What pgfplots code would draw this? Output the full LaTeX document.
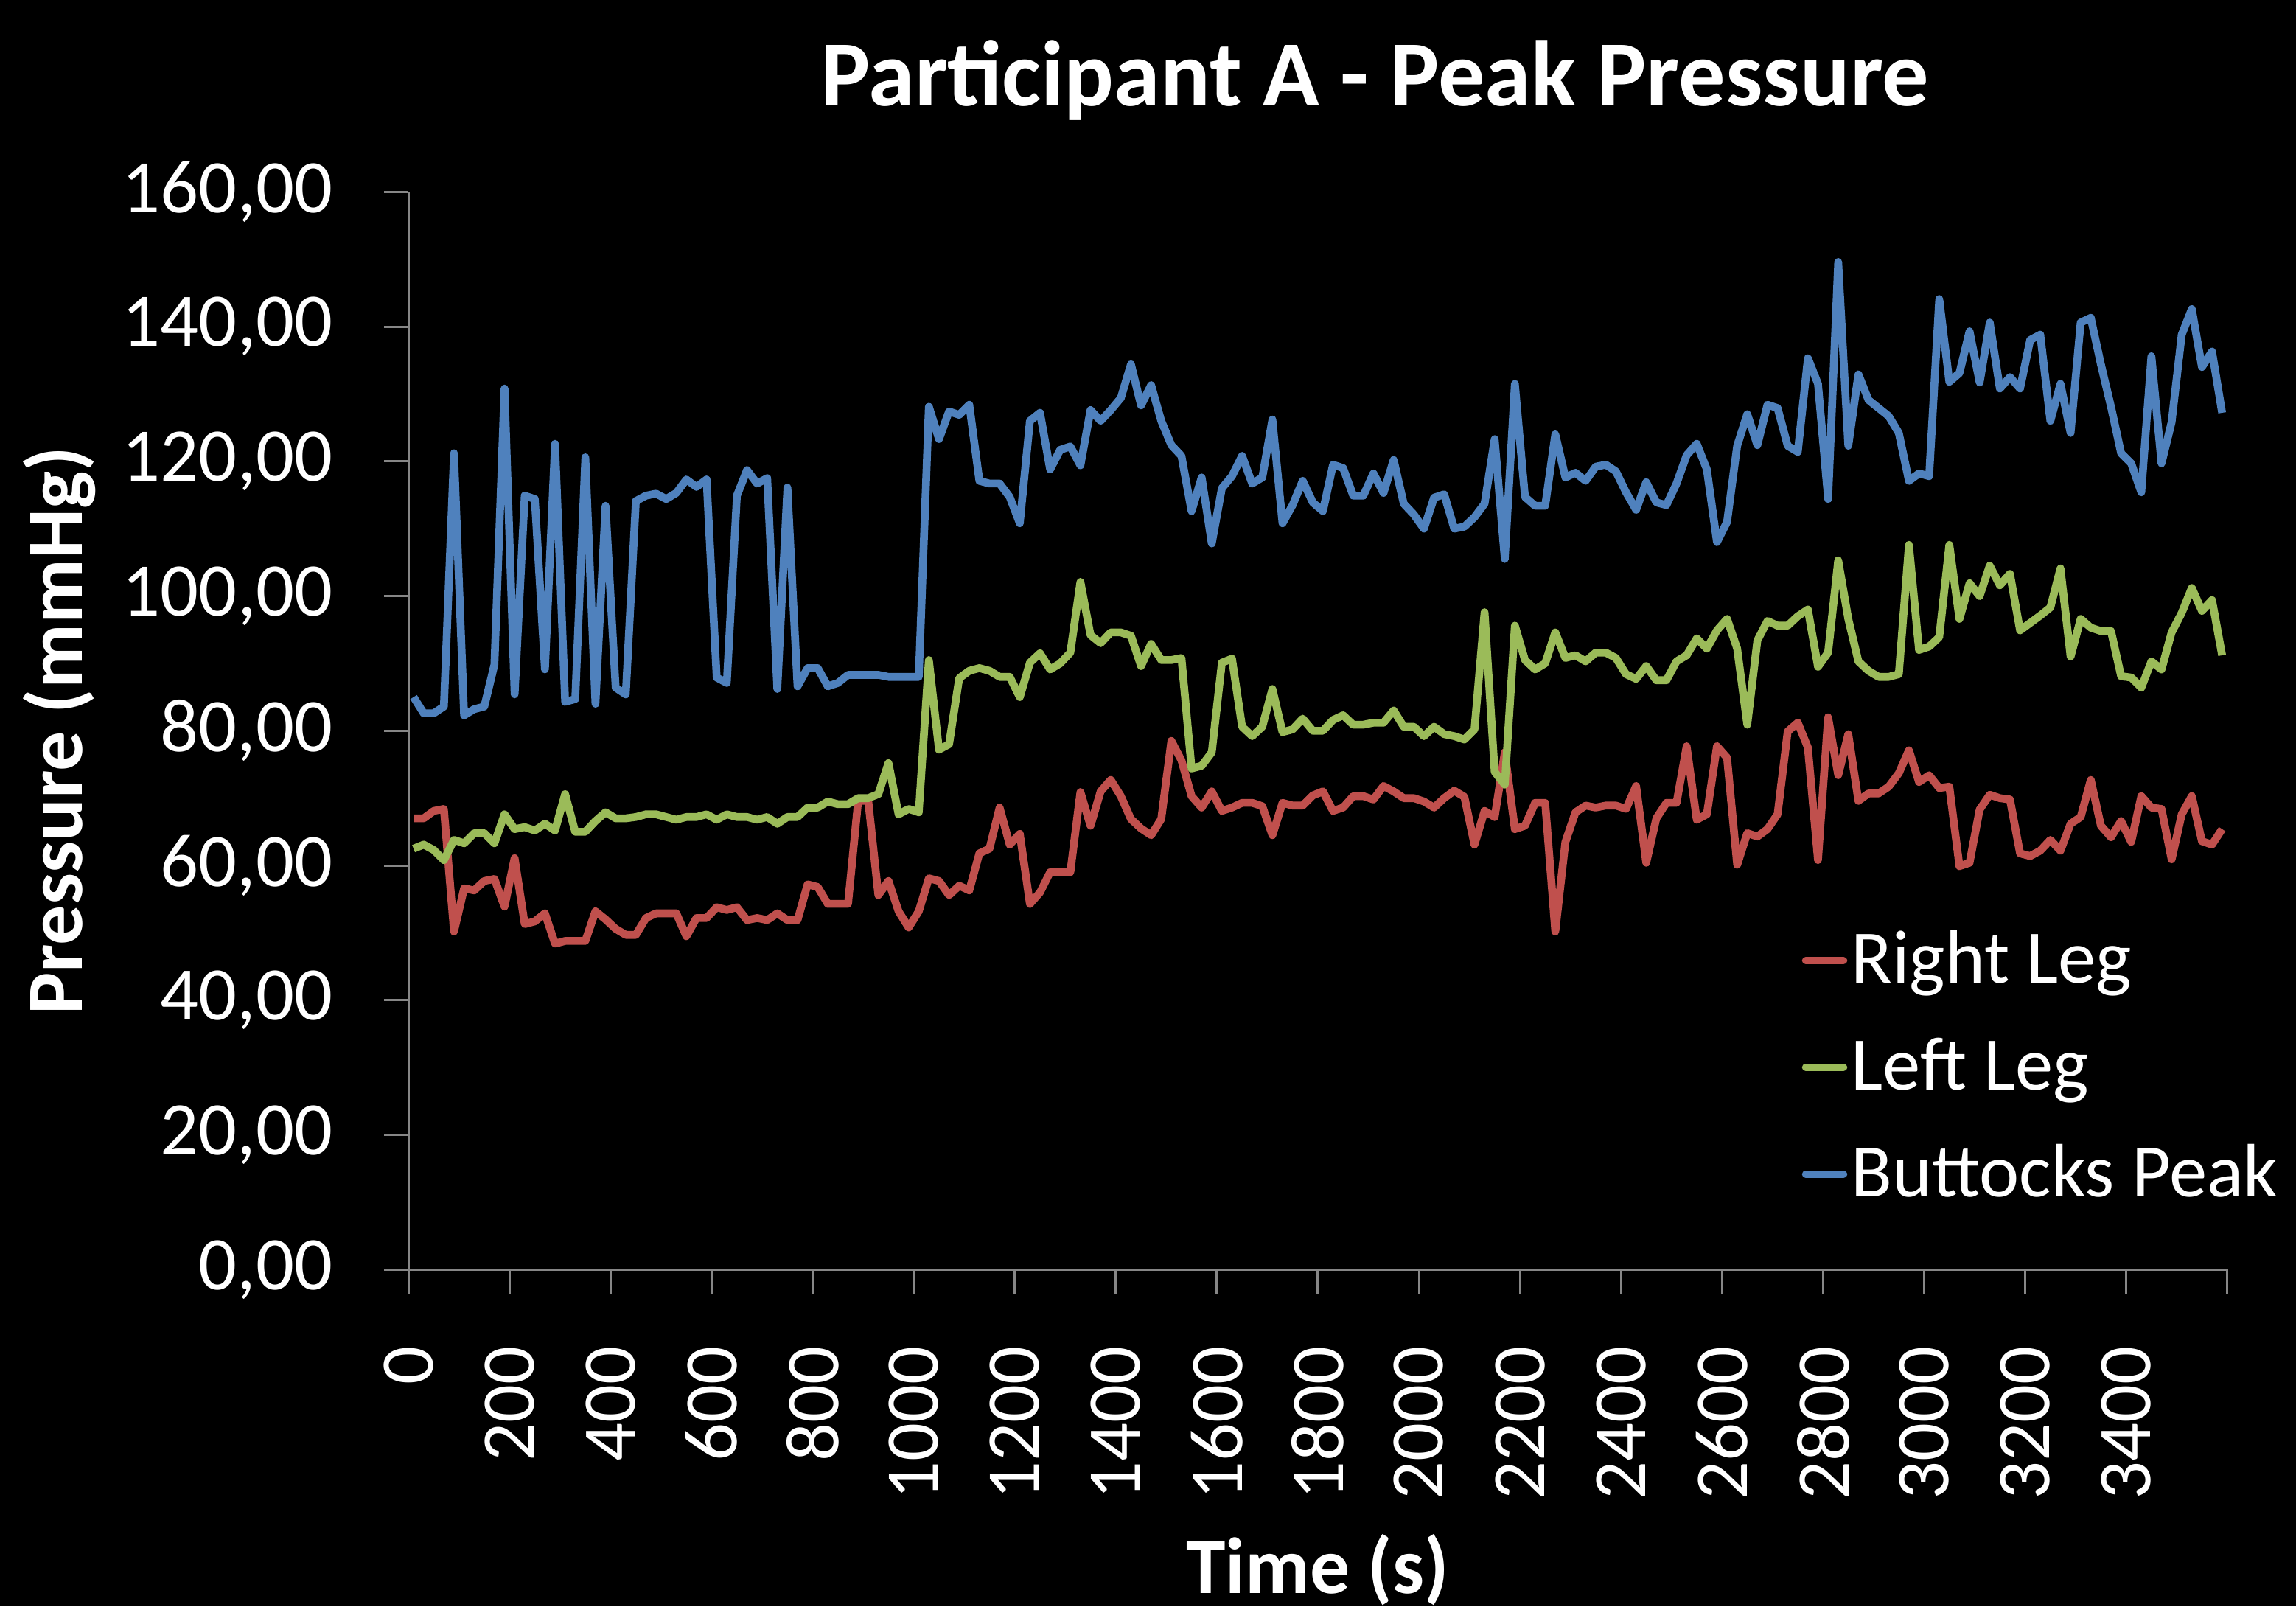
\documentclass[border=0pt]{standalone}
\usepackage{pgfplots}
\pgfplotsset{compat=1.18}
\usepackage{pgfplotstable}
\usepackage{fontspec}
\setmainfont{Carlito}
\definecolor{rl}{HTML}{C0504D}
\definecolor{ll}{HTML}{9BBB59}
\definecolor{bp}{HTML}{4F81BD}
\definecolor{axgray}{HTML}{868686}

\pgfplotstableread{
t R L B
0 67.0 62.5 85.0
20 67.0 63.1 82.6
40 68.1 62.3 82.6
60 68.4 60.8 83.6
80 50.2 63.8 121.2
100 56.6 63.3 82.3
120 56.3 64.8 83.2
140 57.7 64.8 83.6
160 58.0 63.3 89.8
180 53.9 67.6 130.8
200 61.1 65.4 85.4
220 51.3 65.7 114.9
240 51.7 65.2 114.4
260 52.9 66.2 89.1
280 48.4 65.2 122.6
300 48.8 70.6 84.3
320 48.8 65.0 84.7
340 48.8 65.0 120.6
360 53.2 66.6 84.0
380 52.0 67.9 113.4
400 50.6 67.0 86.4
420 49.7 67.0 85.4
440 49.7 67.2 114.1
460 52.2 67.6 114.9
480 52.9 67.6 115.2
500 52.9 67.2 114.4
520 52.9 66.8 115.3
540 49.5 67.2 117.3
560 52.2 67.2 116.2
580 52.2 67.6 117.3
600 53.8 66.8 87.9
620 53.4 67.6 87.1
640 53.8 67.2 114.9
660 51.9 67.2 118.7
680 52.2 66.8 116.7
700 51.9 67.2 117.5
720 52.9 66.2 86.2
740 51.9 67.2 116.1
760 51.9 67.2 86.6
780 57.2 68.6 89.3
800 56.8 68.6 89.3
820 54.3 69.5 86.6
840 54.3 69.1 87.1
860 54.3 69.1 88.3
880 69.6 70.0 88.3
900 69.6 70.0 88.3
920 55.6 70.6 88.3
940 57.7 75.2 88.0
960 53.2 67.6 88.0
980 50.8 68.4 88.0
1000 53.2 67.9 88.0
1020 58.1 90.5 128.1
1040 57.7 77.2 123.3
1060 55.6 78.0 127.4
1080 57.0 87.8 126.9
1100 56.3 88.9 128.4
1120 61.8 89.3 117.1
1140 62.5 88.9 116.7
1160 68.6 88.0 116.7
1180 63.1 88.0 114.7
1200 64.7 85.0 110.8
1220 54.3 90.1 126.0
1240 56.0 91.5 127.2
1260 59.0 89.1 118.8
1280 59.0 90.0 121.7
1300 59.0 91.6 122.2
1320 70.9 102.1 119.4
1340 65.9 94.2 127.6
1360 71.0 93.0 126.0
1380 72.7 94.6 127.6
1400 70.3 94.6 129.4
1420 66.9 94.1 134.4
1440 65.5 89.6 128.3
1460 64.5 92.9 131.3
1480 66.9 90.5 126.0
1500 78.5 90.5 122.4
1520 75.6 90.8 120.8
1540 70.3 74.4 112.6
1560 68.6 74.8 117.6
1580 71.0 76.8 107.8
1600 68.1 90.1 116.0
1620 68.6 90.7 117.8
1640 69.3 80.6 120.8
1660 69.3 79.2 116.7
1680 68.8 80.6 117.6
1700 64.5 86.2 126.2
1720 69.3 79.8 110.8
1740 68.9 80.2 113.5
1760 68.9 81.8 117.1
1780 70.4 80.0 113.9
1800 71.0 80.0 112.6
1820 68.1 81.6 119.5
1840 68.6 82.3 119.0
1860 70.3 80.9 114.9
1880 70.3 80.9 114.9
1900 69.8 81.2 118.2
1920 71.8 81.2 115.3
1940 71.0 83.0 120.2
1960 70.0 80.6 113.7
1980 70.0 80.6 112.1
2000 69.5 79.2 110.0
2020 68.6 80.6 114.6
2040 70.0 79.5 115.1
2060 71.1 79.2 110.0
2080 70.2 78.7 110.3
2100 63.1 80.2 111.7
2120 68.1 97.6 113.7
2140 67.2 73.9 123.3
2160 76.8 72.0 105.5
2180 65.4 95.6 131.5
2200 65.9 90.5 114.7
2220 69.3 89.1 113.4
2240 69.3 90.0 113.4
2260 50.2 94.6 124.0
2280 63.5 90.8 117.6
2300 67.9 91.2 118.3
2320 68.9 90.3 117.1
2340 68.6 91.6 119.2
2360 68.9 91.6 119.5
2380 68.9 90.8 118.5
2400 68.4 88.4 115.4
2420 71.8 87.7 112.8
2440 60.4 89.6 116.9
2460 67.0 87.5 113.9
2480 69.3 87.5 113.5
2500 69.3 90.3 116.7
2520 77.7 91.2 120.9
2540 66.8 93.7 122.6
2560 67.6 92.2 118.8
2580 77.7 94.9 108.0
2600 76.0 96.6 111.0
2620 60.1 92.2 122.3
2640 64.8 80.9 127.0
2660 64.3 93.4 122.4
2680 65.4 96.3 128.4
2700 67.6 95.6 127.9
2720 79.9 95.6 122.3
2740 81.2 97.0 121.4
2760 77.5 98.0 135.3
2780 60.8 89.5 131.5
2800 82.0 91.6 114.4
2820 73.4 105.3 149.6
2840 79.5 96.6 122.3
2860 69.6 90.3 132.9
2880 70.7 88.9 129.1
2900 70.7 88.0 127.9
2920 71.7 88.0 126.7
2940 73.7 88.4 124.2
2960 77.1 107.6 117.1
2980 72.4 92.0 118.2
3000 73.4 92.5 117.8
3020 71.5 93.9 144.1
3040 71.7 107.6 131.8
3060 59.9 96.6 133.1
3080 60.4 101.9 139.3
3100 68.3 100.0 131.7
3120 70.5 104.5 140.6
3140 70.0 101.6 130.8
3160 69.8 103.3 132.5
3180 61.8 94.9 130.8
3200 61.4 96.0 138.0
3220 62.2 97.1 138.8
3240 63.8 98.3 126.0
3260 62.2 104.1 131.5
3280 66.2 91.0 124.2
3300 67.2 96.6 140.6
3320 72.7 95.3 141.3
3340 65.9 94.8 134.4
3360 64.2 94.8 128.1
3380 66.6 88.1 121.2
3400 63.5 87.9 119.7
3420 70.3 86.4 115.4
3440 68.6 90.3 135.6
3460 68.4 89.1 119.7
3480 60.9 94.6 125.8
3500 67.6 97.5 138.8
3520 70.3 101.2 142.6
3540 63.6 97.8 134.0
3560 63.1 99.4 136.3
3580 65.4 91.2 127.2
}\datatable

\begin{document}
\begin{tikzpicture}
\fill[black, use as bounding box] (-83.7pt,-69pt) rectangle (386.7pt,260.1pt);
\begin{axis}[
  at={(0pt,0pt)}, anchor=south west,
  scale only axis, width=372.6pt, height=220.8pt,
  xmin=-10, xmax=3590, ymin=0, ymax=160,
  xtick={-10,190,...,3590},
  xticklabels={0,200,400,600,800,1000,1200,1400,1600,1800,2000,2200,2400,2600,2800,3000,3200,3400,{}},
  ytick={0,20,...,160},
  axis x line=bottom, axis y line=left,
  axis line style={-, draw=axgray, line width=0.45pt},
  tick style={draw=axgray, line width=0.45pt},
  tick align=outside, major tick length=5pt,
  tick label style={text=white, font=\fontsize{15.5}{18}\selectfont, inner sep=0pt},
  xticklabel style={rotate=90, anchor=east},
  yticklabel style={anchor=east},
  xticklabel shift=10.5pt, yticklabel shift=10.3pt,
  /pgf/number format/fixed, /pgf/number format/fixed zerofill,
  /pgf/number format/precision=2, /pgf/number format/use comma,
  /pgf/number format/assume math mode=true,
  title={Participant A - Peak Pressure},
  title style={font=\bfseries\fontsize{19.1}{23}\selectfont, text=white, at={(axis description cs:0.5314,1.053)}, anchor=base},
  xlabel={Time (s)},
  xlabel style={font=\bfseries\fontsize{16.3}{19}\selectfont, text=white, at={(axis description cs:0.5,-0.300)}, anchor=base},
  ylabel={Pressure (mmHg)},
  ylabel style={font=\bfseries\fontsize{16.3}{19}\selectfont, text=white, at={(axis description cs:-0.1796,0.5)}, anchor=base},
  legend style={at={(axis description cs:0.7576,0.3245)}, anchor=north west, draw=none, fill=none, text=white,
    font=\fontsize{15.5}{18}\selectfont, row sep=9.7pt, column sep=0.8pt, nodes={inner sep=0pt}},
  legend cell align=left,
  legend image code/.code={\draw[#1, line cap=round] (0pt,0pt) -- (7.7pt,0pt);},
]
\addplot[rl, line width=1.6pt, line join=round, no marks] table[x=t, y=R] {\datatable};
\addlegendentry{Right Leg}
\addplot[ll, line width=1.6pt, line join=round, no marks] table[x=t, y=L] {\datatable};
\addlegendentry{Left Leg}
\addplot[bp, line width=1.6pt, line join=round, no marks] table[x=t, y=B] {\datatable};
\addlegendentry{Buttocks Peak}
\end{axis}
\end{tikzpicture}
\end{document}
